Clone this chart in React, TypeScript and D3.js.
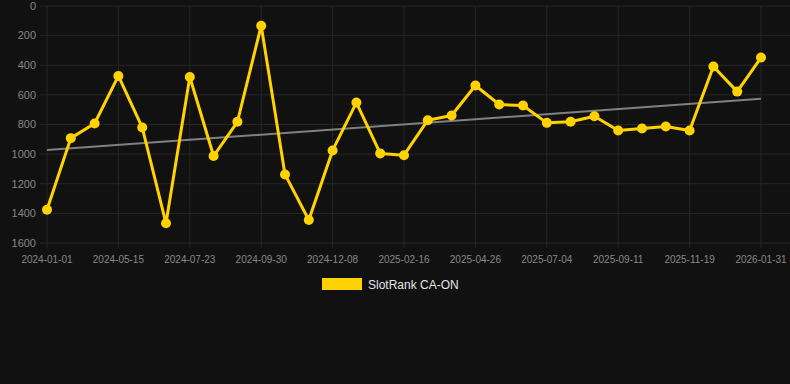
import React from "react";
import * as d3 from "d3";

const categories = [
  "2024-01-01", "2024-02-15", "2024-03-31", "2024-05-15", "2024-06-07", "2024-06-30",
  "2024-07-23", "2024-08-15", "2024-09-07", "2024-09-30", "2024-10-23", "2024-11-15",
  "2024-12-08", "2024-12-31", "2025-01-24", "2025-02-16", "2025-03-11", "2025-04-03",
  "2025-04-26", "2025-05-19", "2025-06-11", "2025-07-04", "2025-07-27", "2025-08-19",
  "2025-09-11", "2025-10-04", "2025-10-27", "2025-11-19", "2025-12-12", "2026-01-08",
  "2026-01-31",
];

const rankValues = [
  1375, 892, 793, 472, 820, 1467, 479, 1013, 782, 133,
  1137, 1445, 975, 652, 995, 1007, 771, 739, 537, 665,
  672, 789, 782, 744, 840, 827, 813, 840, 409, 578, 348,
];

const tickLabels = [
  "2024-01-01", "2024-05-15", "2024-07-23", "2024-09-30", "2024-12-08", "2025-02-16",
  "2025-04-26", "2025-07-04", "2025-09-11", "2025-11-19", "2026-01-31",
];

const yTicks = [0, 200, 400, 600, 800, 1000, 1200, 1400, 1600];

const seriesName = "SlotRank CA-ON";

const W = 790;
const H = 384;
const plotLeft = 40;
const plotRight = 790;
const plotTop = 6;
const plotBottom = 243;
const gold = "#FFD200";
const font = "Liberation Sans, Arial, Helvetica, sans-serif";

export default function App() {
  const x = d3.scalePoint<string>().domain(categories).range([47, 761]);
  const y = d3.scaleLinear().domain([0, 1600]).range([plotTop, plotBottom]);

  // linear regression trend
  const n = rankValues.length;
  const xs = rankValues.map((_, i) => i);
  const mx = d3.mean(xs) as number;
  const my = d3.mean(rankValues) as number;
  let num = 0;
  let den = 0;
  xs.forEach((xi, i) => {
    num += (xi - mx) * (rankValues[i] - my);
    den += (xi - mx) * (xi - mx);
  });
  const slope = num / den;
  const intercept = my - slope * mx;
  const trendStart = intercept;
  const trendEnd = intercept + slope * (n - 1);

  const line = d3
    .line<number>()
    .x((_, i) => x(categories[i]) as number)
    .y((d) => y(d));

  return (
    <svg
      width={W}
      height={H}
      style={{ position: "absolute", left: 0, top: 0, background: "#111111" }}
    >
      <rect x={0} y={0} width={W} height={H} fill="#111111" />
      {/* horizontal grid */}
      {yTicks.map((t) => (
        <line
          key={"h" + t}
          x1={plotLeft}
          x2={plotRight}
          y1={y(t)}
          y2={y(t)}
          stroke="#262626"
          strokeWidth={1}
        />
      ))}
      {/* vertical grid */}
      {tickLabels.map((c) => (
        <line
          key={"v" + c}
          x1={x(c) as number}
          x2={x(c) as number}
          y1={plotTop}
          y2={plotBottom + 5}
          stroke="#262626"
          strokeWidth={1}
        />
      ))}
      {/* y labels */}
      {yTicks.map((t) => (
        <text
          key={"yl" + t}
          x={36}
          y={y(t)}
          dy="0.35em"
          textAnchor="end"
          fill="#888888"
          fontSize={11}
          fontFamily={font}
        >
          {t}
        </text>
      ))}
      {/* x labels */}
      {tickLabels.map((c) => (
        <text
          key={"xl" + c}
          x={x(c) as number}
          y={259}
          dy="0.35em"
          textAnchor="middle"
          fill="#888888"
          fontSize={10}
          fontFamily={font}
        >
          {c}
        </text>
      ))}
      {/* trend line */}
      <line
        x1={x(categories[0]) as number}
        x2={x(categories[n - 1]) as number}
        y1={y(trendStart)}
        y2={y(trendEnd)}
        stroke="#808080"
        strokeWidth={2}
      />
      {/* series line */}
      <path d={line(rankValues) || ""} fill="none" stroke={gold} strokeWidth={3} strokeLinejoin="round" />
      {rankValues.map((v, i) => (
        <circle key={"p" + i} cx={x(categories[i]) as number} cy={y(v)} r={5} fill={gold} />
      ))}
      {/* legend */}
      <rect x={322} y={278} width={40} height={12} fill={gold} />
      <text x={368} y={285} dy="0.35em" fill="#e6e6e6" fontSize={12} fontFamily={font}>
        {seriesName}
      </text>
    </svg>
  );
}
